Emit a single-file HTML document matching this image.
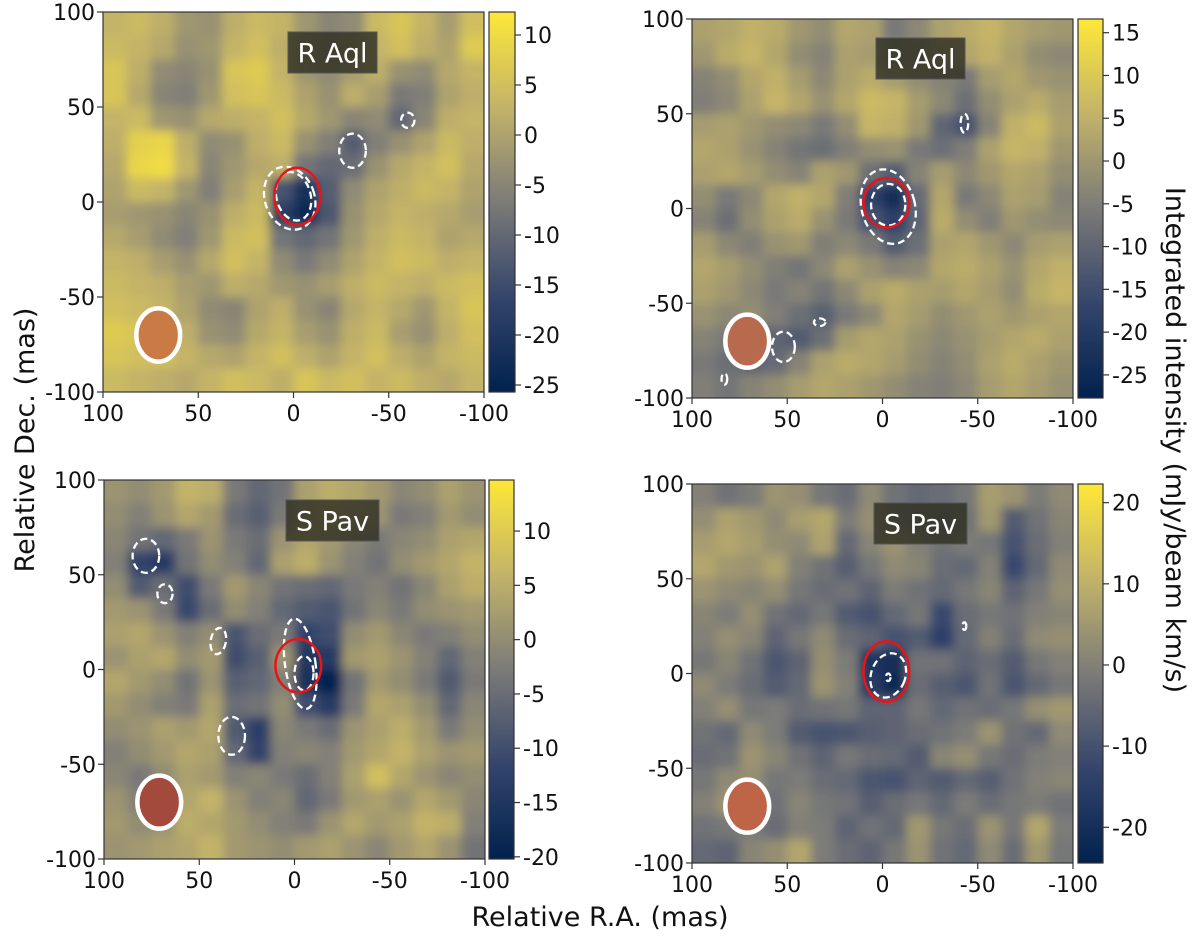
<!DOCTYPE html>
<html><head><meta charset="utf-8">
<style>
html,body{margin:0;padding:0;background:#fff;}
svg{display:block;font-family:"DejaVu Sans","Liberation Sans",sans-serif;}
</style></head>
<body>
<svg id="fig" width="1200" height="940" viewBox="0 0 1200 940" xmlns="http://www.w3.org/2000/svg">
<defs>
<filter id="blur" x="-5%" y="-5%" width="110%" height="110%"><feGaussianBlur stdDeviation="5"/></filter>
</defs>
<text x="0" y="0" transform="translate(34,440) rotate(-90)" text-anchor="middle" font-size="27" fill="#111">Relative Dec. (mas)</text>
<text x="600" y="926" text-anchor="middle" font-size="27" fill="#111">Relative R.A. (mas)</text>
<text x="0" y="0" transform="translate(1166,440) rotate(90)" text-anchor="middle" font-size="27" fill="#111">Integrated intensity (mJy/beam km/s)</text>
</svg>
<script>
// ---- data ----
const xTicks=[100,50,0,-50,-100];
const yTicks=[100,50,0,-50,-100];
const labels=["R Aql","R Aql","S Pav","S Pav"];
const cbTicks1=[10,5,0,-5,-10,-15,-20,-25];
const cbTicks2=[15,10,5,0,-5,-10,-15,-20,-25];
const cbTicks3=[10,5,0,-5,-10,-15,-20];
const cbTicks4=[20,10,0,-10,-20];
const vRange1=[-25.7,12.3];
const vRange2=[-27.7,16.6];
const vRange3=[-20.2,14.7];
const vRange4=[-24.4,22.3];
const grid1=[
[3,4,2,-2,-3,2,4,3,-2,-5,-4,4,6,3,-1,5],
[4,3,1,-3,-2,3,5,2,-3,-6,-3,3,5,2,0,7],
[6,2,-4,-5,-3,6,7,3,-2,-4,-1,2,-3,-4,1,3],
[6,1,-5,-6,-2,5,6,4,0,-3,2,-1,-7,-6,0,2],
[3,4,-2,-3,1,2,3,5,1,-2,-5,-4,-10,-5,2,3],
[2,8,9,2,-4,-3,2,4,-3,-6,-12,-6,-3,0,4,2],
[1,9,10,3,-5,-2,1,2,-8,-10,-9,-3,1,3,5,1],
[0,4,3,-2,-6,-1,3,-14,-22,-12,-4,0,2,4,3,0],
[-1,-2,-3,-5,-3,2,4,-18,-23,-13,-3,1,3,2,1,-1],
[1,-1,-4,-6,-2,4,5,-8,-10,-8,-2,2,4,3,0,1],
[3,2,-1,-3,1,5,3,-4,-7,-4,0,3,5,4,2,3],
[4,3,2,-1,-2,2,1,-2,-3,-1,2,4,3,2,4,5],
[5,4,3,0,-4,-5,0,2,-3,-5,1,3,1,-2,3,6],
[7,6,4,2,-3,-4,1,3,-1,-3,2,4,-1,-3,2,5],
[6,5,5,3,1,0,3,5,2,0,3,5,2,0,3,4],
[4,3,2,1,3,5,4,2,6,4,5,3,4,2,1,3]];
const grid2=[
[2,3,5,4,0,-2,3,2,-6,-3,2,4,6,3,1,0],
[0,4,6,3,-2,-4,2,1,-5,-4,1,3,5,2,-2,-3],
[-4,-2,3,5,1,-3,2,4,1,-2,-4,-6,1,3,0,-1],
[-5,-3,2,6,3,-1,3,7,6,1,-3,-8,-2,2,4,1],
[1,2,0,-2,-3,-6,-2,6,5,0,-10,-14,-4,5,7,2],
[3,2,-1,-4,-7,-8,-5,-2,-1,-6,-8,-5,2,6,5,0],
[2,3,1,-2,-4,2,0,-8,-12,-4,1,-3,0,3,2,-2],
[-2,-6,-3,3,5,3,-5,-18,-24,-9,3,-6,-3,2,1,-4],
[-4,-8,-2,2,4,-1,-6,-14,-18,-10,4,-2,-5,0,-2,-3],
[1,-3,-5,-1,0,-5,-3,-6,-12,-8,2,3,0,-3,1,2],
[3,1,-2,-5,-7,-3,2,-1,-4,-3,3,4,2,-1,3,5],
[2,0,-3,-6,-4,-7,-3,2,4,2,1,3,1,-2,4,6],
[-1,-3,-2,-5,-8,-11,-6,-3,3,1,-2,0,2,0,2,3],
[-4,-6,-14,-10,-12,-8,1,3,2,-1,-3,-1,1,3,4,2],
[-6,-8,-10,-9,-4,2,4,3,1,-2,-4,-2,2,4,2,0],
[-5,-7,-4,-2,1,3,2,0,-2,-4,-5,-3,1,3,1,-1]];
const grid3=[
[1,0,2,6,5,-3,-6,-4,3,5,4,2,-1,0,3,1],
[0,-2,1,4,2,-5,-7,-3,2,4,3,1,-3,-2,2,0],
[-1,-4,-6,-3,1,-3,-5,1,4,2,-1,-3,-1,0,3,4],
[-2,-12,-14,-4,0,-2,-6,3,5,1,-2,-4,0,2,4,6],
[0,-8,-5,-10,-3,2,-1,-4,-5,-6,-3,-2,-4,-1,3,5],
[2,1,-3,-11,-5,0,-2,-6,-8,-9,-4,-1,-3,0,1,2],
[3,4,1,-2,0,-9,-5,-3,-12,-10,0,2,-1,-3,-2,0],
[1,3,4,0,2,-10,-7,1,-15,-14,2,3,1,-2,-6,-2],
[4,2,0,-4,1,-7,-6,-2,-16,-20,-4,2,0,-3,-8,-3],
[2,0,-2,-3,3,-5,-4,0,-10,-14,-3,4,3,0,-6,-1],
[0,1,3,2,4,-8,-13,-1,-3,-5,1,3,5,2,-3,0],
[-2,0,2,4,3,-6,-12,-2,-1,-2,2,4,6,3,1,2],
[-1,-3,0,3,2,-2,-1,-3,-5,-2,3,8,4,1,-1,0],
[1,-2,-1,4,6,1,-2,-1,-6,-3,2,3,1,4,2,-1],
[2,0,1,5,4,2,0,-2,-3,1,4,2,3,6,5,-2],
[1,2,3,4,6,2,1,0,2,3,1,-1,2,4,1,-4]];
const grid4=[
[0,-3,-1,4,3,-2,-4,2,-3,-5,-4,-2,6,4,-1,2],
[3,7,5,2,6,8,-1,3,-2,-4,-6,-3,5,-8,-3,1],
[6,8,6,3,2,7,-5,1,4,0,-3,-1,-2,-10,-4,0],
[8,5,4,7,0,-3,-7,-2,2,1,-4,-5,0,-12,-5,2],
[4,2,1,3,-2,-4,-3,-6,-1,-3,-5,-2,1,-6,-2,3],
[1,-1,3,-3,-5,-2,-8,-10,-5,-2,-12,-4,-2,-3,0,1],
[0,3,1,-6,-2,2,-4,-6,-10,-8,-14,-5,0,-4,2,3],
[-2,1,-3,-9,-6,3,-1,-18,-20,-3,-3,-6,-4,-8,-2,0],
[2,-1,-4,-8,-5,4,0,-16,-22,-4,-7,-9,-3,-9,-5,-2],
[0,3,-2,-1,-4,-3,-2,-6,-6,-2,-5,-3,-4,-2,3,5],
[-3,-5,2,-1,-8,-10,-9,-7,-6,-4,-3,-1,4,-3,-5,2],
[-4,-3,4,1,-3,-6,-2,-4,-5,-8,1,3,-2,-4,-1,0],
[-2,2,3,-2,-1,-4,-5,-9,-10,-6,-8,-5,-7,-3,0,1],
[0,4,2,-3,1,-2,-3,-7,-4,-2,-5,-1,-4,-2,-1,-3],
[-3,-2,-1,-4,0,-1,-6,-3,-5,5,-2,-4,4,-2,8,-1],
[-5,-6,1,3,8,-1,-4,-6,-2,4,-3,-5,2,-4,5,-2]];
// contours: [ra, dec, rx(mas), ry(mas), rotation]
const dashed1=[[2,2,13,17,-20],[0,3,9,13,-15],[-31,27,7,9,0],[-60,43,3.5,4,0]];
const dashed2=[[-3,1,14,20,-15],[-3,2,9,11,0],[-43,45,2,5,0],[33,-60,3,2,0],[52,-73,6,8,0],[83,-90,1.5,3,0]];
const dashed3=[[-3,3,8,24,-8],[-5,-2,5,9,0],[78,60,7,9,0],[68,40,4,5,0],[40,15,4,7,10],[33,-35,7,10,0]];
const dashed4=[[-3,-1,9,12,20],[-43,25,1,2,0],[-3,-2,1.2,2,0]];
const red1=[[-2,3,12,15,0]];
const red2=[[-2,3,12,13,0]];
const red3=[[-2,2,12,14,0]];
const red4=[[-2,1,12,16,0]];
const beamRA=[71,71,71,71];
const beamDec=[-70,-70,-70,-70];
const beamColors=["#c97a45","#b86a4e","#a34a3c","#bf6547"];

// ---- layout (not data) ----
const layouts=[
 {x0:103,x1:484,y0:12,y1:392,cb0:489,cb1:515},
 {x0:692,x1:1073,y0:19,y1:398,cb0:1078,cb1:1103},
 {x0:104,x1:485,y0:480,y1:859,cb0:489,cb1:514},
 {x0:692,x1:1073,y0:484,y1:863,cb0:1078,cb1:1103}];
const boxes=[[288,32,89,41],[876,38,89,41],[286,500,93,41],[874,503,93,41]];

const grids=[grid1,grid2,grid3,grid4];
const ranges=[vRange1,vRange2,vRange3,vRange4];
const cbt=[cbTicks1,cbTicks2,cbTicks3,cbTicks4];
const dashedAll=[dashed1,dashed2,dashed3,dashed4];
const redAll=[red1,red2,red3,red4];

const stops=[[0,[0,34,78]],[0.25,[53,69,108]],[0.5,[124,123,120]],[0.75,[195,179,105]],[1,[254,232,56]]];
function cmap(t){t=Math.max(0,Math.min(1,t));for(let i=1;i<stops.length;i++){if(t<=stops[i][0]){const a=stops[i-1],b=stops[i];const f=(t-a[0])/(b[0]-a[0]);const c=a[1].map((v,k)=>Math.round(v+(b[1][k]-v)*f));return `rgb(${c[0]},${c[1]},${c[2]})`;}}return 'rgb(254,232,56)';}
const NS="http://www.w3.org/2000/svg";
const svg=document.getElementById('fig');
function mk(tag,attrs,parent){const e=document.createElementNS(NS,tag);for(const k in attrs)e.setAttribute(k,attrs[k]);(parent||svg).appendChild(e);return e;}

layouts.forEach((L,p)=>{
 const g=mk('g',{});
 
 
 const xs=ra=>L.x0+(100-ra)/200*(L.x1-L.x0);
 const ys=dec=>L.y0+(100-dec)/200*(L.y1-L.y0);
 const sx=(L.x1-L.x0)/200, sy=(L.y1-L.y0)/200;
 const cp=mk('clipPath',{id:'clip'+p},g);
 mk('rect',{x:L.x0,y:L.y0,width:L.x1-L.x0,height:L.y1-L.y0},cp);
 const hg=mk('g',{'clip-path':`url(#clip${p})`},g);
 const hm=mk('g',{filter:'url(#blur)'},hg);
 
 
 const grid=grids[p], rng=ranges[p];
 const n=grid.length, m=grid[0].length;
 const cw=(L.x1-L.x0)/m, ch=(L.y1-L.y0)/n;
 for(let r=-1;r<=n;r++)for(let c=-1;c<=m;c++){
   const rr=Math.max(0,Math.min(n-1,r)), cc=Math.max(0,Math.min(m-1,c));
   const v=grid[rr][cc];
   const cell=mk('rect',{x:L.x0+c*cw,y:L.y0+r*ch,width:cw+0.6,height:ch+0.6,fill:cmap((v-rng[0])/(rng[1]-rng[0]))},hm);
   
   
 }
 dashedAll[p].forEach(d=>{
   const e=mk('ellipse',{cx:xs(d[0]),cy:ys(d[1]),rx:d[2]*sx,ry:d[3]*sy,transform:`rotate(${d[4]} ${xs(d[0])} ${ys(d[1])})`,fill:'none',stroke:'#fff','stroke-width':2.3,'stroke-dasharray':'7 4'},hg);
   
   
 });
 redAll[p].forEach(d=>{
   const e=mk('ellipse',{cx:xs(d[0]),cy:ys(d[1]),rx:d[2]*sx,ry:d[3]*sy,transform:`rotate(${d[4]} ${xs(d[0])} ${ys(d[1])})`,fill:'none',stroke:'#e8141a','stroke-width':2.5},hg);
   
   
 });
 const bm=mk('ellipse',{cx:xs(beamRA[p]),cy:ys(beamDec[p]),rx:11.5*sx,ry:14*sy,fill:beamColors[p],stroke:'#fff','stroke-width':4.5},hg);
 
 
 const b=boxes[p];
 const bx=mk('rect',{x:b[0],y:b[1],width:b[2],height:b[3],fill:'#2f2f22','fill-opacity':0.82,stroke:'#555','stroke-width':1},g);
 
 
 const lt=mk('text',{x:b[0]+b[2]/2,y:b[1]+b[3]/2+10,'text-anchor':'middle','font-size':27,fill:'#fff'},g);
 lt.textContent=labels[p];
 
 
 const fr=mk('rect',{x:L.x0,y:L.y0,width:L.x1-L.x0,height:L.y1-L.y0,fill:'none',stroke:'#333','stroke-width':1.2},g);
 
 
 xTicks.forEach(t=>{
   mk('line',{x1:xs(t),x2:xs(t),y1:L.y1,y2:L.y1+6,stroke:'#333','stroke-width':1.2},g);
   const tx=mk('text',{x:xs(t),y:L.y1+29,'text-anchor':'middle','font-size':22,fill:'#111'},g);
   tx.textContent=t;
   
   
 });
 yTicks.forEach(t=>{
   mk('line',{x1:L.x0-6,x2:L.x0,y1:ys(t),y2:ys(t),stroke:'#333','stroke-width':1.2},g);
   const ty=mk('text',{x:L.x0-8,y:ys(t)+8,'text-anchor':'end','font-size':22,fill:'#111'},g);
   ty.textContent=t;
   
   
 });
 const gid='cbg'+p;
 const lg=mk('linearGradient',{id:gid,x1:0,y1:1,x2:0,y2:0},svg.querySelector('defs'));
 for(let i=0;i<=20;i++)mk('stop',{offset:i/20,'stop-color':cmap(i/20)},lg);
 const cb=mk('rect',{x:L.cb0,y:L.y0,width:L.cb1-L.cb0,height:L.y1-L.y0,fill:`url(#${gid})`,stroke:'#333','stroke-width':1.2},g);
 
 
 const cy=v=>L.y1-(v-rng[0])/(rng[1]-rng[0])*(L.y1-L.y0);
 cbt[p].forEach(t=>{
   mk('line',{x1:L.cb1,x2:L.cb1+6,y1:cy(t),y2:cy(t),stroke:'#333','stroke-width':1.2},g);
   const tc=mk('text',{x:L.cb1+9,y:cy(t)+8,'font-size':22,fill:'#111'},g);
   tc.textContent=t;
   
   
 });
});
</script>
</body></html>
